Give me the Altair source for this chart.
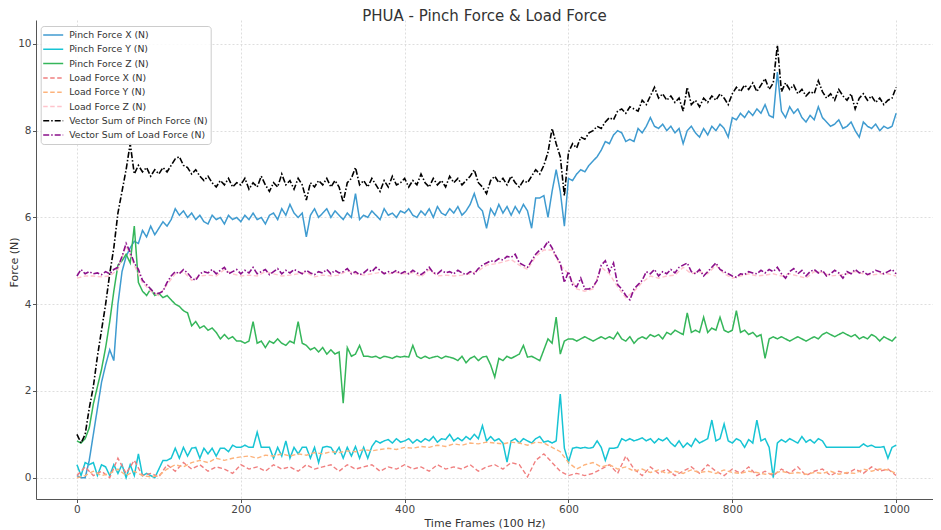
import altair as alt
import pandas as pd

FRAMES_5 = list(range(0, 1001, 5))
FRAMES_10 = list(range(0, 1001, 10))

PINCH_X = [
    0.05, 0.0, 0.0, 0.4, 1.0, 1.6, 2.2, 2.6, 2.95, 2.7, 4.0, 4.75, 5.1, 5.3, 5.45, 5.4, 5.7, 5.55, 5.8, 5.6,
    5.75, 5.9, 5.8, 5.95, 6.2, 6.05, 6.15, 6.0, 6.1, 5.95, 6.05, 5.9, 5.85, 6.05, 5.95, 6.0, 5.85, 6.05, 5.95, 6.0,
    5.9, 6.05, 5.95, 6.1, 5.95, 6.0, 5.85, 6.05, 6.1, 5.95, 6.2, 6.05, 6.3, 6.1, 6.0, 6.1, 5.55, 6.05, 6.2, 6.0,
    6.1, 6.2, 6.0, 6.15, 6.05, 5.95, 6.1, 6.0, 6.55, 5.95, 6.05, 6.0, 6.15, 6.05, 5.95, 6.2, 6.05, 6.1, 6.0, 6.15,
    6.1, 6.2, 6.05, 6.0, 6.15, 6.05, 6.2, 6.0, 6.25, 6.1, 6.05, 6.2, 6.1, 6.25, 6.05, 6.15, 6.3, 6.55, 6.25, 6.15,
    5.75, 6.2, 6.05, 6.3, 6.1, 6.25, 6.05, 6.25, 6.1, 6.3, 6.15, 5.75, 6.45, 6.45, 6.5, 6.0, 6.6, 7.1, 6.6, 5.8,
    6.9, 6.85, 7.0, 7.1, 7.05, 7.2, 7.3, 7.4, 7.55, 7.75, 7.7, 7.9, 8.0, 7.95, 7.75, 7.8, 7.75, 8.05, 7.95, 8.1,
    8.3, 8.1, 8.05, 8.15, 8.0, 8.1, 7.95, 8.05, 7.7, 8.0, 8.1, 7.95, 7.85, 8.05, 7.9, 8.1, 8.0, 8.15, 8.05, 7.85,
    8.3, 8.25, 8.4, 8.3, 8.45, 8.35, 8.5, 8.4, 8.6, 8.35, 8.3, 9.35, 8.45, 8.3, 8.55, 8.4, 8.5, 8.3, 8.2, 8.35,
    8.25, 8.55, 8.3, 8.2, 8.1, 8.15, 8.25, 8.05, 8.1, 8.2, 8.0, 7.85, 8.2, 8.1, 8.05, 8.15, 8.0, 8.1, 8.05, 8.1,
    8.4,
]

PINCH_Y = [
    0.3, 0.05, 0.35, 0.3, 0.35, 0.05, 0.3, 0.25, 0.05, 0.3, 0.1, 0.3, 0.0, 0.3, 0.05, 0.55, 0.05, 0.1, 0.05, 0.0,
    0.2, 0.4, 0.4, 0.45, 0.68, 0.45, 0.7, 0.5, 0.68, 0.7, 0.45, 0.68, 0.55, 0.68, 0.5, 0.68, 0.68, 0.6, 0.75, 0.7,
    0.7, 0.75, 0.7, 0.7, 1.05, 0.7, 0.7, 0.7, 0.45, 0.7, 0.5, 0.85, 0.45, 0.7, 0.55, 0.7, 0.7, 0.45, 0.7, 0.35,
    0.7, 0.72, 0.7, 0.55, 0.7, 0.45, 0.7, 0.5, 0.72, 0.45, 0.7, 0.45, 0.72, 0.85, 0.8, 0.85, 0.88, 0.8, 0.9, 0.82,
    0.85, 0.9, 0.8, 0.88, 0.82, 0.9, 0.85, 0.95, 0.82, 0.9, 0.88, 1.0, 0.85, 0.92, 0.85, 0.95, 0.88, 1.0, 0.9, 1.2,
    0.85, 0.95, 0.85, 0.9, 0.8, 0.36, 0.85, 0.9, 0.8, 0.9, 0.85, 0.8, 0.9, 0.95, 0.82, 0.85, 0.8, 0.85, 1.93, 0.68,
    0.36, 0.68, 0.7, 0.68, 0.7, 0.68, 0.7, 0.85, 0.7, 0.4, 0.68, 0.68, 0.7, 0.9, 0.85, 0.9, 0.85, 0.88, 0.92, 0.85,
    0.9, 0.8, 0.9, 0.85, 0.92, 0.8, 0.72, 0.85, 0.7, 0.8, 0.72, 0.9, 0.8, 0.85, 0.9, 1.33, 0.85, 0.9, 1.24, 0.85,
    0.8, 0.9, 0.85, 0.7, 0.88, 0.8, 1.33, 0.85, 0.9, 0.7, 0.0, 0.8, 0.88, 0.82, 0.9, 0.85, 0.8, 0.95, 0.82, 0.88,
    0.8, 0.9, 0.85, 0.7, 0.7, 0.7, 0.7, 0.7, 0.7, 0.7, 0.7, 0.7, 0.78, 0.72, 0.75, 0.7, 0.7, 0.72, 0.45, 0.7,
    0.75,
]

PINCH_Z = [
    0.85, 0.8, 0.9, 1.15, 1.7, 2.1, 2.5, 3.0, 3.6, 4.3, 4.9, 5.0, 5.15, 4.95, 5.8, 4.5, 4.3, 4.2, 4.35, 4.2,
    4.25, 4.15, 4.2, 4.1, 4.0, 3.95, 3.85, 3.8, 3.5, 3.6, 3.45, 3.5, 3.4, 3.45, 3.35, 3.2, 3.3, 3.2, 3.25, 3.15,
    3.15, 3.1, 3.15, 3.6, 3.1, 3.15, 3.0, 3.15, 3.1, 3.2, 3.1, 3.05, 3.15, 3.1, 3.6, 3.1, 3.05, 2.95, 3.0, 2.9,
    3.0, 2.85, 2.95, 2.85, 2.9, 1.72, 3.0, 2.8, 2.85, 3.05, 2.8, 2.8, 2.78, 2.8, 2.75, 2.8, 2.78, 2.75, 2.8, 2.78,
    2.8, 2.78, 3.05, 2.8, 2.75, 2.8, 2.75, 2.78, 2.8, 2.75, 2.8, 2.78, 2.75, 2.7, 2.8, 2.65, 2.75, 2.8, 2.7, 2.78,
    2.8, 2.6, 2.32, 2.75, 2.7, 2.8, 2.75, 2.8, 2.85, 3.05, 2.78, 2.8, 2.75, 2.7, 2.95, 3.2, 3.1, 3.7, 2.85, 3.15,
    3.2, 3.2, 3.15, 3.2, 3.25, 3.2, 3.15, 3.2, 3.25, 3.2, 3.25, 3.2, 3.35, 3.2, 3.15, 3.25, 3.1, 3.2, 3.25, 3.2,
    3.3, 3.25, 3.3, 3.2, 3.35, 3.3, 3.4, 3.35, 3.3, 3.8, 3.35, 3.4, 3.35, 3.7, 3.35, 3.45, 3.4, 3.7, 3.4, 3.35,
    3.4, 3.85, 3.35, 3.4, 3.3, 3.35, 3.25, 3.3, 2.75, 3.2, 3.25, 3.2, 3.25, 3.2, 3.15, 3.2, 3.25, 3.2, 3.15, 3.2,
    3.25, 3.2, 3.3, 3.35, 3.3, 3.25, 3.3, 3.35, 3.3, 3.25, 3.3, 3.2, 3.25, 3.2, 3.3, 3.25, 3.15, 3.25, 3.2, 3.15,
    3.25,
]

LOAD_X = [
    0.05, 0.25, 0.05, 0.15, 0.0, 0.45, 0.1, 0.4, 0.05, 0.1,
    0.02, 0.3, 0.15, 0.35, 0.2, 0.3, 0.15, 0.25, 0.2, 0.1,
    0.3, 0.2, 0.25, 0.15, 0.3, 0.2, 0.25, 0.15, 0.3, 0.2,
    0.25, 0.3, 0.15, 0.3, 0.2, 0.25, 0.3, 0.15, 0.25, 0.2,
    0.3, 0.2, 0.25, 0.15, 0.3, 0.2, 0.25, 0.2, 0.3, 0.15,
    0.25, 0.3, 0.2, 0.35, 0.3, 0.02, 0.4, 0.55, 0.35, 0.15,
    0.05, 0.1, 0.05, 0.1, 0.2, 0.3, 0.1, 0.5, 0.2, 0.05,
    0.25, 0.1, 0.2, 0.05, 0.15, 0.25, 0.1, 0.3, 0.15, 0.05,
    0.2, 0.1, 0.25, 0.05, 0.15, 0.05, 0.2, 0.1, 0.25, 0.05,
    0.15, 0.2, 0.05, 0.15, 0.1, 0.2, 0.1, 0.25, 0.15, 0.2,
    0.05,
]

LOAD_Y = [
    0.0, 0.05, 0.15, 0.05, 0.1, 0.2, 0.05, 0.15, 0.05, 0.02,
    0.05, 0.2, 0.3, 0.25, 0.35, 0.4, 0.35, 0.45, 0.4, 0.45,
    0.48, 0.5, 0.45, 0.52, 0.5, 0.55, 0.5, 0.55, 0.52, 0.58,
    0.55, 0.6, 0.58, 0.62, 0.6, 0.65, 0.62, 0.65, 0.68, 0.65,
    0.7, 0.68, 0.72, 0.7, 0.75, 0.72, 0.78, 0.75, 0.8, 0.78,
    0.82, 0.8, 0.78, 0.82, 0.8, 0.75, 0.82, 0.8, 0.7, 0.6,
    0.35, 0.2, 0.3, 0.35, 0.25, 0.3, 0.2, 0.25, 0.15, 0.2,
    0.12, 0.18, 0.1, 0.15, 0.1, 0.18, 0.12, 0.15, 0.1, 0.18,
    0.12, 0.1, 0.15, 0.12, 0.08, 0.1, 0.15, 0.1, 0.12, 0.08,
    0.12, 0.1, 0.15, 0.08, 0.12, 0.1, 0.2, 0.15, 0.2, 0.18,
    0.1,
]

LOAD_Z = [
    4.6, 4.65, 4.65, 4.63, 4.65, 4.8, 5.35, 4.9, 4.5, 4.3,
    4.2, 4.45, 4.7, 4.75, 4.55, 4.65, 4.67, 4.65, 4.8, 4.7,
    4.65, 4.67, 4.65, 4.75, 4.7, 4.65, 4.67, 4.7, 4.73, 4.63,
    4.67, 4.65, 4.67, 4.77, 4.7, 4.67, 4.7, 4.73, 4.7, 4.73,
    4.7, 4.73, 4.63, 4.8, 4.65, 4.67, 4.65, 4.67, 4.7, 4.77,
    4.9, 4.93, 4.97, 5.03, 4.9, 4.8, 5.1, 5.25, 5.25, 4.9,
    4.7, 4.35, 4.3, 4.35, 4.85, 4.7, 4.4, 4.15, 4.3, 4.5,
    4.65, 4.6, 4.65, 4.67, 4.85, 4.7, 4.75, 4.7, 4.9, 4.7,
    4.6, 4.65, 4.7, 4.65, 4.67, 4.7, 4.65, 4.7, 4.65, 4.6,
    4.75, 4.73, 4.65, 4.67, 4.7, 4.75, 4.7, 4.67, 4.7, 4.7,
    4.65,
]

VS_PINCH = [
    1.0, 0.8, 1.0, 1.6, 2.1, 2.8, 3.4, 4.0, 4.7, 5.3, 6.1, 6.6, 7.1, 7.7, 7.0, 7.2, 7.05, 7.15, 6.95, 7.1,
    7.0, 7.15, 7.05, 7.2, 7.35, 7.4, 7.2, 7.15, 7.0, 7.1, 6.95, 6.85, 6.95, 6.8, 6.7, 6.85, 6.75, 6.9, 6.7, 6.8,
    6.75, 6.9, 6.65, 6.8, 6.7, 6.95, 6.75, 6.6, 6.8, 6.7, 7.0, 6.75, 6.85, 6.65, 6.9, 6.75, 6.4, 6.8, 6.7, 6.85,
    6.75, 6.9, 6.7, 6.85, 6.7, 6.35, 6.8, 6.9, 7.15, 6.75, 6.85, 6.7, 6.9, 6.75, 6.6, 6.85, 6.7, 6.95, 6.75, 6.8,
    6.9, 6.7, 6.85, 6.75, 7.0, 6.8, 6.7, 6.9, 6.75, 6.85, 6.7, 6.95, 6.8, 6.9, 6.75, 6.85, 6.95, 7.1, 6.8, 6.7,
    6.55, 6.85, 6.95, 6.8, 6.9, 6.75, 6.95, 6.8, 6.7, 6.85, 6.8, 6.95, 7.1, 7.0, 7.2, 7.5, 8.05, 7.7, 7.4, 6.5,
    7.5, 7.7, 7.6, 7.85, 7.8, 7.95, 8.0, 8.1, 8.05, 8.2, 8.3, 8.25, 8.45, 8.5, 8.4, 8.55, 8.5, 8.45, 8.7, 8.6,
    8.8, 9.0, 8.75, 8.85, 8.7, 8.8, 8.65, 8.75, 8.45, 9.0, 8.6, 8.7, 8.55, 8.75, 8.65, 8.8, 8.7, 8.85, 8.75, 8.6,
    8.85, 9.0, 8.9, 9.05, 8.95, 9.1, 8.9, 9.05, 9.2, 8.95, 9.1, 9.97, 8.9, 9.1, 8.95, 9.05, 8.85, 8.95, 8.8, 8.9,
    8.85, 9.15, 8.9, 8.75, 8.85, 8.7, 8.95, 8.8, 8.7, 8.85, 8.5, 8.75, 8.85, 8.7, 8.8, 8.65, 8.75, 8.6, 8.7, 8.75,
    9.0,
]

VS_LOAD = [
    4.65, 4.8, 4.7, 4.75, 4.7, 4.72, 4.68, 4.75, 4.7, 4.8, 4.85, 5.1, 5.4, 5.2, 4.95, 4.8, 4.55, 4.45, 4.35, 4.25,
    4.25, 4.3, 4.5, 4.65, 4.75, 4.7, 4.8, 4.72, 4.6, 4.55, 4.7, 4.75, 4.72, 4.8, 4.7, 4.78, 4.85, 4.7, 4.75, 4.8,
    4.7, 4.78, 4.72, 4.85, 4.7, 4.75, 4.8, 4.68, 4.75, 4.82, 4.7, 4.78, 4.72, 4.8, 4.75, 4.7, 4.78, 4.72, 4.68, 4.75,
    4.72, 4.8, 4.7, 4.78, 4.72, 4.75, 4.82, 4.7, 4.75, 4.68, 4.72, 4.8, 4.75, 4.85, 4.78, 4.7, 4.75, 4.72, 4.78, 4.7,
    4.75, 4.7, 4.78, 4.72, 4.68, 4.75, 4.85, 4.72, 4.7, 4.78, 4.72, 4.75, 4.7, 4.78, 4.72, 4.68, 4.75, 4.7, 4.82, 4.9,
    4.95, 5.0, 4.98, 5.05, 5.02, 5.1, 5.08, 5.15, 4.95, 4.9, 4.85, 5.0, 5.15, 5.25, 5.3, 5.45, 5.3, 5.1, 4.95, 4.5,
    4.75, 4.45, 4.4, 4.6, 4.35, 4.35, 4.4, 4.55, 4.9, 5.0, 4.75, 4.95, 4.45, 4.35, 4.2, 4.1, 4.35, 4.45, 4.55, 4.75,
    4.7, 4.8, 4.65, 4.75, 4.7, 4.8, 4.72, 4.85, 4.9, 4.95, 4.75, 4.7, 4.8, 4.65, 4.75, 4.85, 4.95, 4.8, 4.75, 4.7,
    4.65, 4.62, 4.7, 4.68, 4.75, 4.72, 4.7, 4.78, 4.72, 4.8, 4.75, 4.85, 4.7, 4.6, 4.75, 4.82, 4.7, 4.78, 4.65, 4.75,
    4.8, 4.72, 4.78, 4.65, 4.7, 4.78, 4.72, 4.6, 4.75, 4.7, 4.8, 4.72, 4.75, 4.68, 4.72, 4.78, 4.75, 4.7, 4.75, 4.8,
    4.7,
]

SERIES_NAMES = [
    "Pinch Force X (N)", "Pinch Force Y (N)", "Pinch Force Z (N)",
    "Load Force X (N)", "Load Force Y (N)", "Load Force Z (N)",
    "Vector Sum of Pinch Force (N)", "Vector Sum of Load Force (N)",
]
SERIES_FRAMES = [FRAMES_5, FRAMES_5, FRAMES_5, FRAMES_10, FRAMES_10, FRAMES_10, FRAMES_5, FRAMES_5]
SERIES_VALUES = [PINCH_X, PINCH_Y, PINCH_Z, LOAD_X, LOAD_Y, LOAD_Z, VS_PINCH, VS_LOAD]
COLORS = ["#3f9bd0", "#17c4d4", "#35b65a", "#f08080", "#fdb37c", "#ffc4cc", "#000000", "#8b108b"]
DASHES = [[1, 0], [1, 0], [1, 0], [4.5, 2.5], [4.5, 2.5], [4.5, 2.5], [6, 2, 1.5, 2], [6, 2, 1.5, 2]]
WIDTHS = [1.5, 1.5, 1.5, 1.4, 1.4, 1.4, 1.6, 1.6]

FONT = "DejaVu Sans"

legend = alt.Legend(
    title=None, orient="none", legendX=4.7, legendY=6,
    fillColor="rgba(255,255,255,0.85)", strokeColor="#cccccc", cornerRadius=3,
    padding=3, labelFont=FONT, labelFontSize=9.3, labelColor="#333333",
    symbolType="M-2,0H2", symbolSize=100, symbolStrokeWidth=1.5,
    symbolOffset=3.5, labelOffset=10, rowPadding=2.3,
)

color_enc = alt.Color("series:N", scale=alt.Scale(domain=SERIES_NAMES, range=COLORS), legend=legend)
dash_enc = alt.StrokeDash("series:N", scale=alt.Scale(domain=SERIES_NAMES, range=DASHES), legend=legend)
x_enc = alt.X(
    "frame:Q",
    scale=alt.Scale(domain=[-50, 1045], nice=False, zero=False),
    axis=alt.Axis(values=[0, 200, 400, 600, 800, 1000], format="d", title="Time Frames (100 Hz)",
                  titleY=27, titleBaseline="alphabetic", labelPadding=1.5),
)
y_enc = alt.Y(
    "value:Q",
    scale=alt.Scale(domain=[-0.49, 10.55], nice=False, zero=False),
    axis=alt.Axis(values=[0, 2, 4, 6, 8, 10], format="d", title="Force (N)",
                  titleX=-19, titleY=242, titleBaseline="alphabetic", labelPadding=1.5),
)

layers = []
for name, frames, vals, w in zip(SERIES_NAMES, SERIES_FRAMES, SERIES_VALUES, WIDTHS):
    df = pd.DataFrame({"frame": frames, "value": vals, "series": name})
    layers.append(
        alt.Chart(df).mark_line(strokeWidth=w, clip=True).encode(
            x=x_enc, y=y_enc, color=color_enc, strokeDash=dash_enc
        )
    )

chart = (
    alt.layer(*layers)
    .properties(
        width=897, height=479,
        title=alt.TitleParams("PHUA - Pinch Force & Load Force", font=FONT, fontSize=15,
                              fontWeight="normal", color="#333333", anchor="middle",
                              frame="group", baseline="bottom", offset=-18.5),
        padding={"left": 28, "top": 12, "right": 0, "bottom": 31},
        autosize=alt.AutoSizeParams(type="none"),
    )
    .configure_view(stroke="transparent")
    .configure_axis(
        labelFont=FONT, labelFontSize=10.5, labelColor="#444444",
        titleFont=FONT, titleFontSize=11, titleFontWeight="normal", titleColor="#333333",
        domainColor="#555555", tickColor="#555555", tickSize=3.5, tickWidth=1,
        gridColor="#d6d6d6", gridDash=[2, 2], gridWidth=0.8,
    )
)

chart.save("out.html", embed_options={"renderer": "svg", "actions": False})
